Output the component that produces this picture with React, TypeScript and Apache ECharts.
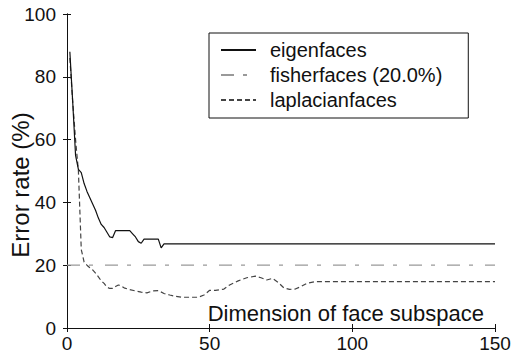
import React, { useEffect, useRef } from "react";
import * as echarts from "echarts";

const xTicks = [0, 50, 100, 150];
const yTicks = [0, 20, 40, 60, 80, 100];

const eigenDims = [1, 2, 3, 4, 5, 6, 7, 8, 9, 10, 11, 12, 13, 14, 15, 16, 17, 22, 23, 24, 25, 26, 27, 32, 33, 34, 150];
const eigenValues = [88, 72, 55, 50.5, 49.5, 46, 43.5, 41.5, 39.5, 37.5, 35, 33, 32, 30.5, 29, 28.8, 31, 31, 30, 29, 27.5, 27, 28.3, 28.3, 25.5, 26.8, 26.8];

const fisherDims = [0, 150];
const fisherValues = [20, 20];

const lapDims = [1, 2, 3, 4, 5, 6, 7, 8, 9, 10, 11, 12, 13, 14, 15, 16, 17, 18, 19, 20, 22, 24, 26, 28, 30, 32, 34, 36, 38, 40, 46, 48, 50, 52, 55, 57, 60, 63, 66, 68, 70, 72, 74, 76, 78, 80, 82, 84, 87, 150];
const lapValues = [86, 72, 60, 50, 25, 21, 20, 19.2, 18.5, 17.5, 16.3, 15, 14.2, 13, 12.6, 12.6, 13.2, 13.7, 13.4, 12.8, 12.2, 11.8, 11.4, 11.2, 11.8, 11.9, 11, 10.5, 10.1, 9.8, 9.8, 10.5, 12, 12, 12.4, 13.7, 15, 16, 16.5, 16, 15.3, 15.8, 14.5, 12.8, 12.3, 12.4, 13.2, 14.2, 14.8, 14.8];

const seriesNames = ["eigenfaces", "fisherfaces (20.0%)", "laplacianfaces"];
const xName = "Dimension of face subspace";
const yName = "Error rate (%)";

const zip = (xs: number[], ys: number[]) => xs.map((x, i) => [x, ys[i]]);

const FONT = "Liberation Sans, Arial, sans-serif";

export default function App() {
  const ref = useRef<HTMLDivElement>(null);
  useEffect(() => {
    if (!ref.current) return;
    const chart = echarts.init(ref.current, undefined, { renderer: "svg" });
    const axisLine = { show: true, lineStyle: { color: "#111", width: 1 } };
    const tick = { show: true, inside: true, length: 4, lineStyle: { color: "#111" } };
    chart.setOption({
      animation: false,
      backgroundColor: "#fff",
      grid: { left: 67, right: 17, top: 14, bottom: 32, containLabel: false, outerBoundsMode: "none" },
      legend: {
        orient: "vertical",
        left: 209,
        top: 33,
        padding: [7, 26, 8, 11],
        borderColor: "#111",
        borderWidth: 1,
        itemWidth: 35,
        itemHeight: 20,
        itemGap: 5,
        backgroundColor: "#fff",
        itemStyle: { opacity: 0 },
        data: seriesNames,
        textStyle: { fontFamily: FONT, fontSize: 20, color: "#111", lineHeight: 20, padding: [0, 0, 0, 9] },
      },
      xAxis: [
        {
          type: "value",
          min: 0,
          max: 150,
          interval: 50,
          position: "bottom",
          axisLine,
          axisTick: tick,
          splitLine: { show: false },
          axisLabel: { fontFamily: FONT, fontSize: 19, color: "#111", margin: 6, customValues: xTicks },
          name: xName,
          nameLocation: "end",
          nameGap: -11,
          nameMoveOverlap: false,
          nameTextStyle: { fontFamily: FONT, fontSize: 22, color: "#111", align: "right", verticalAlign: "bottom", padding: [0, 0, 4, 0] },
        },
        {
          type: "value",
          min: 0,
          max: 150,
          interval: 50,
          position: "top",
          axisLine,
          axisTick: tick,
          splitLine: { show: false },
          axisLabel: { show: false },
        },
      ],
      yAxis: [
        {
          type: "value",
          min: 0,
          max: 100,
          interval: 20,
          position: "left",
          axisLine,
          axisTick: tick,
          splitLine: { show: false },
          axisLabel: { fontFamily: FONT, fontSize: 19, color: "#111", margin: 11, customValues: yTicks },
          name: yName,
          nameLocation: "middle",
          nameGap: 35,
          nameMoveOverlap: false,
          nameTextStyle: { fontFamily: FONT, fontSize: 24, color: "#111", padding: [0, 28, 0, 0] },
        },
        {
          type: "value",
          min: 0,
          max: 100,
          interval: 20,
          position: "right",
          axisLine,
          axisTick: tick,
          splitLine: { show: false },
          axisLabel: { show: false },
        },
      ],
      series: [
        {
          name: seriesNames[0],
          type: "line",
          data: zip(eigenDims, eigenValues),
          symbol: "none",
          lineStyle: { color: "#111", width: 1.2, type: "solid" },
          itemStyle: { color: "#111" },
          z: 3,
        },
        {
          name: seriesNames[1],
          type: "line",
          data: zip(fisherDims, fisherValues),
          symbol: "none",
          lineStyle: { color: "#999", width: 1.3, type: [13, 9, 4, 12] },
          itemStyle: { color: "#999" },
          z: 2,
        },
        {
          name: seriesNames[2],
          type: "line",
          data: zip(lapDims, lapValues),
          symbol: "none",
          lineStyle: { color: "#444", width: 1.2, type: [5, 3] },
          itemStyle: { color: "#444" },
          z: 2,
        },
      ],
    });
    return () => chart.dispose();
  }, []);
  return <div ref={ref} style={{ width: 512, height: 360, position: "absolute", left: 0, top: 0 }} />;
}
